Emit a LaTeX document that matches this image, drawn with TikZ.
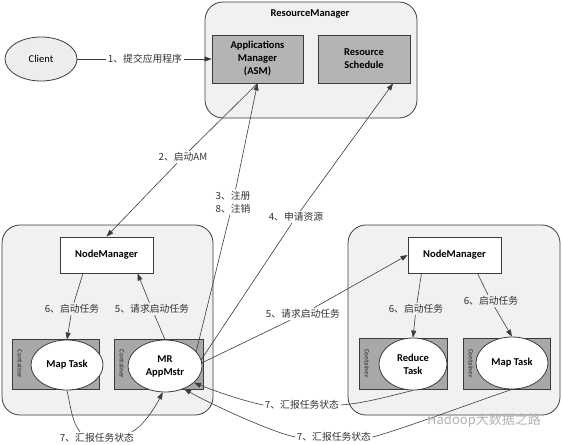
\documentclass[tikz,border=0pt]{standalone}
\usepackage{fontspec}
\setmainfont{Carlito}
\newfontfamily\cjk{Noto Sans CJK SC}
\usetikzlibrary{shapes.geometric,arrows.meta}
\definecolor{edgecol}{HTML}{3C3C3C}
\definecolor{panelcol}{HTML}{F1F1F1}
\definecolor{darkboxcol}{HTML}{B4B4B4}
\definecolor{contcol}{HTML}{A8A8A8}
\definecolor{clientcol}{HTML}{EDEDED}
\newcommand\bxfont{\fontsize{10.5}{13}\selectfont\bfseries}
\begin{document}
\begin{tikzpicture}[x=1pt,y=-1pt,
  panelbox/.style={draw=edgecol, line width=0.8pt, rounded corners=18pt, fill=panelcol, inner sep=0pt},
  greybox/.style={draw=edgecol, line width=0.8pt, fill=darkboxcol, align=center, font=\bxfont, inner sep=0pt},
  nmbox/.style={draw=edgecol, line width=0.8pt, fill=white, font=\bxfont, inner sep=0pt},
  contbox/.style={draw=edgecol, line width=0.8pt, fill=contcol, inner sep=0pt},
  taskell/.style={ellipse, draw=edgecol, line width=0.8pt, fill=white, align=center, font=\bxfont, inner sep=0pt},
  conttext/.style={rotate=-90, font=\fontsize{7}{8}\selectfont\bfseries, text=black!70, inner sep=0pt},
  lbl/.style={font=\cjk\fontsize{9.8}{13}\selectfont, text=black!80, inner sep=1.5pt, align=center},
  conn/.style={draw=edgecol, line width=0.6pt},
  arr/.style={conn, -{Triangle[length=7pt,width=5pt]}},
]
\useasboundingbox (0,0) rectangle (563,445);
\fill[white] (0,0) rectangle (563,445);

% ResourceManager
\node[panelbox, minimum width=212pt, minimum height=116pt] (rm) at (311,60) {};
\node[font=\bxfont, inner sep=0pt] (rmtitle) at (310,14) {ResourceManager};
\node[greybox, minimum width=91pt, minimum height=48pt] (asm) at (257.5,59) {Applications\\Manager\\(ASM)};
\node[greybox, minimum width=92pt, minimum height=48pt] (rs) at (364,59) {Resource\\Schedule};

% Client
\node[ellipse, draw=edgecol, line width=0.8pt, fill=clientcol, minimum width=72pt, minimum height=44pt, inner sep=0pt, font=\fontsize{10.5}{13}\selectfont] (client) at (41,59) {Client};

% left NodeManager cluster
\node[panelbox, minimum width=211pt, minimum height=190pt] (cl1) at (107.5,320) {};
\node[nmbox, minimum width=93pt, minimum height=36pt] (nm1) at (106.5,255) {NodeManager};
\node[contbox, minimum width=87pt, minimum height=50pt] (c1) at (55.5,364) {};
\node[conttext] (c1t) at (20,364) {Container};
\node[taskell, minimum width=72pt, minimum height=50pt] (map1) at (67,365) {Map Task};
\node[contbox, minimum width=89pt, minimum height=50pt] (c2) at (158.5,364) {};
\node[conttext] (c2t) at (122,364) {Container};
\node[taskell, minimum width=74pt, minimum height=52pt] (mr) at (165,366) {MR\\AppMstr};

% right NodeManager cluster
\node[panelbox, minimum width=212pt, minimum height=190pt] (cl2) at (454,320) {};
\node[nmbox, minimum width=93pt, minimum height=36pt] (nm2) at (454.5,255) {NodeManager};
\node[contbox, minimum width=88pt, minimum height=51pt] (c3) at (403,363.5) {};
\node[conttext] (c3t) at (367,363.5) {Container};
\node[taskell, minimum width=68pt, minimum height=52pt] (red) at (413,364) {Reduce\\Task};
\node[contbox, minimum width=87pt, minimum height=51pt] (c4) at (506.5,363.5) {};
\node[conttext] (c4t) at (471,363.5) {Container};
\node[taskell, minimum width=72pt, minimum height=52pt] (map2) at (512,363) {Map Task};

% labels
\node[lbl] (l1) at (145,59) {1、提交应用程序};
\node[lbl] (l2) at (183,157) {2、启动AM};
\node[lbl] (l3) at (233,202) {3、注册\\8、注销};
\node[lbl] (l4) at (296,217) {4、申请资源};
\node[lbl] (l5a) at (152,309) {5、请求启动任务};
\node[lbl] (l6a) at (72,309) {6、启动任务};
\node[lbl] (l5b) at (303,314) {5、请求启动任务};
\node[lbl] (l6b) at (416,309) {6、启动任务};
\node[lbl] (l6c) at (491,301) {6、启动任务};
\node[lbl] (l7a) at (97,438) {7、汇报任务状态};
\node[lbl] (l7b) at (302,405) {7、汇报任务状态};
\node[lbl] (l7c) at (334,437) {7、汇报任务状态};

% connectors
\draw[conn] (client) -- (l1);
\draw[arr] (l1) -- (asm);
\draw[conn] (asm.south) -- (l2);
\draw[arr] (l2) -- (nm1.north);
\draw[conn] (mr.25) -- (l3);
\draw[arr] (l3) -- (asm.south);
\draw[conn] (mr.10) -- (l4);
\draw[arr] (l4) -- (rs.-40);
\draw[conn] (mr.north) -- (l5a);
\draw[arr] (l5a) -- ([xshift=31pt]nm1.south);
\draw[conn] ([xshift=-23.5pt]nm1.south) -- (l6a);
\draw[arr] (l6a) -- (map1.north);
\draw[conn] (mr.5) -- (l5b);
\draw[arr] (l5b) -- (nm2.west);
\draw[conn] ([xshift=-33pt]nm2.south) -- (l6b);
\draw[arr] (l6b) -- (red.north);
\draw[conn] ([xshift=23pt]nm2.south) -- (l6c);
\draw[arr] (l6c) -- (map2.north);

\draw[conn] (map1.south) .. controls +(4,18) and +(-8,-10) .. ([xshift=-17pt]l7a.north);
\draw[arr] ([xshift=35pt]l7a.north) .. controls +(12,-6) and +(-6,12) .. (mr.-95);
\draw[conn] (red.south) .. controls +(-25,6) and +(25,-2) .. (l7b.east);
\draw[arr] (l7b.west) .. controls +(-20,-4) and +(20,8) .. (mr.-30);
\draw[conn] (map2.south) .. controls +(-30,10) and +(30,-8) .. (l7c.east);
\draw[arr] (l7c.west) .. controls +(-25,-5) and +(20,12) .. (mr.-50);

% watermark
\node[font=\cjk\fontsize{13}{15}\selectfont, text=black!30, inner sep=0pt] (wm) at (484,420) {Hadoop大数据之路};
\end{tikzpicture}
\end{document}
